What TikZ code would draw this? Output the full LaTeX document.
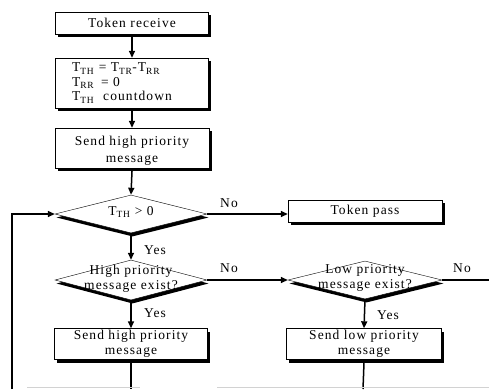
\documentclass[tikz,border=0pt]{standalone}
\usepackage{fontspec}
\setmainfont[LetterSpace=8]{Liberation Serif}
\usetikzlibrary{shapes.geometric,shadows,arrows.meta}
\begin{document}
\begin{tikzpicture}[x=1pt,y=-1pt,
  box/.style={draw,thin,fill=white,rectangle,inner sep=0pt,
    drop shadow={shadow xshift=2.5pt,shadow yshift=-3pt,opacity=1,fill=black}},
  dia/.style={draw,thin,fill=white,diamond,inner sep=0pt,
    drop shadow={shadow xshift=1.5pt,shadow yshift=-3.5pt,opacity=1,fill=black}},
  txt/.style={font=\fontsize{13.5}{15.5}\selectfont,align=center,inner sep=0pt},
  lbl/.style={font=\fontsize{13.5}{14}\selectfont,inner sep=0pt},
  conn/.style={line width=1.5pt},
  arr/.style={conn,-{Triangle[length=7pt,width=6pt]}}]
\useasboundingbox (0,0) rectangle (489,389);
% boxes
\node[box,minimum width=153pt,minimum height=22pt] (b1) at (132,23) {};
\node[txt] at (b1) {Token receive};
\node[box,minimum width=153pt,minimum height=50pt] (b2) at (132,83) {};
\node[txt,align=left,anchor=west,font=\fontsize{13.5}{14.5}\selectfont] at (72,83)
  {T\textsubscript{TH} = T\textsubscript{TR}-T\textsubscript{RR}\\
   T\textsubscript{RR} \,= 0\\
   T\textsubscript{TH} \ countdown};
\node[box,minimum width=154pt,minimum height=40pt] (b3) at (132,148) {};
\node[txt,font=\fontsize{13.5}{17}\selectfont] at (132,151) {Send high priority\\message};
\node[dia,minimum width=152pt,minimum height=38pt] (d1) at (131,214) {};
\node[txt] at (131,212) {T\textsubscript{TH} > 0};
\node[box,minimum width=154pt,minimum height=22pt] (tp) at (365,211) {};
\node[txt] at (tp) {Token pass};
\node[dia,minimum width=152pt,minimum height=40pt] (d2) at (131,280) {};
\node[txt] at (131,279) {High priority\\message exist?};
\node[dia,minimum width=154pt,minimum height=38pt] (d3) at (365,280) {};
\node[txt] at (365,278) {Low priority\\message exist?};
\node[box,minimum width=153pt,minimum height=31pt] (b4) at (131,344) {};
\node[txt] at (b4) {Send high priority\\message};
\node[box,minimum width=155pt,minimum height=31pt] (b5) at (364,344) {};
\node[txt] at (b5) {Send low priority\\message};
% free ends
\coordinate (e3) at (489,280);
\coordinate (e4) at (131,389);
\coordinate (e5) at (363,389);
\coordinate (lb) at (12,389);
\coordinate (lt) at (12,214);
% connectors
\draw[arr] (b1.south) -- (b2.north);
\draw[arr] (b2.south) -- (b3.north);
\draw[arr] ([yshift=-3pt]b3.south) -- (d1.north);
\draw[arr] (d1.east) -- (d1.east -| tp.west);
\draw[arr] (d1.south) -- (d2.north);
\draw[arr] (d2.east) -- (d3.west);
\draw[conn] (d3.east) -- (e3);
\draw[arr] (d2.south) -- (b4.north);
\draw[arr] (d3.south) -- (b5.north);
\draw[conn] ([yshift=-3pt]b4.south) -- (e4);
\draw[conn] ([yshift=-3pt]b5.south) -- (e5);
\draw[arr] (lb) -- (lt) -- (d1.west);
% labels
\node[lbl] at (229,203) {No};
\node[lbl] at (155,250) {Yes};
\node[lbl] at (229,268) {No};
\node[lbl] at (155,313) {Yes};
\node[lbl] at (462,268) {No};
\node[lbl] at (388,315) {Yes};
% faint cut-off line
\draw[gray!35,line width=1pt] (27,387) -- (140,387) (217,387) -- (489,387);
\end{tikzpicture}
\end{document}
